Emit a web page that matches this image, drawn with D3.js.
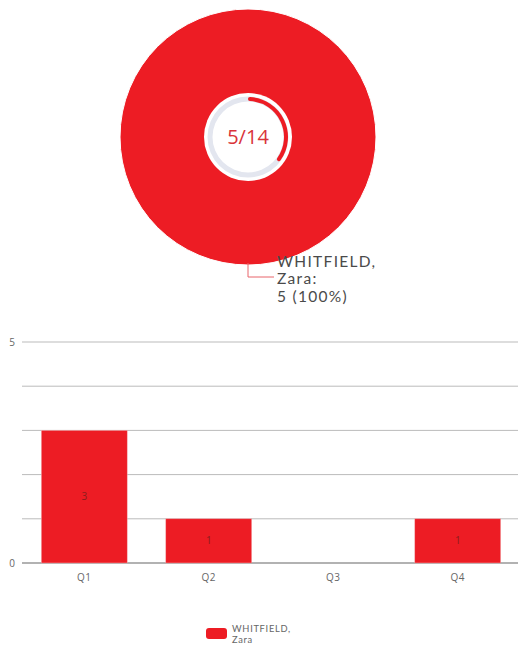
<!DOCTYPE html>
<html><head><meta charset="utf-8">
<script src="https://cdn.jsdelivr.net/npm/d3@7"></script>
<style>body{margin:0;background:#fff;font-family:"Open Sans",Lato,sans-serif;}</style>
</head><body><svg id="c" width="518" height="646"></svg>
<script>
const names = ["WHITFIELD, Zara"];
const pieValues = [5];
const totalTarget = 14;
const quarters = ["Q1","Q2","Q3","Q4"];
const quarterValues = [3,1,0,1];
const yTicks = [0,5];
const red = "#ED1C24";

const svg = d3.select("#c");
const font = "'Open Sans',Lato,sans-serif";
const lfont = "Lato,'Open Sans',sans-serif";

// Pie
const cx = 248, cy = 137, R = 128;
const pie = d3.pie().sort(null)(pieValues);
const g = svg.append("g").attr("transform",`translate(${cx},${cy})`);
g.selectAll("path.s").data(pie).enter().append("path")
  .attr("d", d3.arc().innerRadius(0).outerRadius(R))
  .attr("fill", red).attr("stroke","#fff").attr("stroke-width",1);
g.append("circle").attr("r",44).attr("fill","#fff");
const prog = pieValues[0]/totalTarget;
g.append("path").attr("d", d3.arc().innerRadius(35.5).outerRadius(40.5).startAngle(0).endAngle(2*Math.PI)()).attr("fill","#e3e6ef");
g.append("path").attr("d", d3.arc().innerRadius(36).outerRadius(40).startAngle(0).endAngle(prog*2*Math.PI).cornerRadius(2)()).attr("fill",red);
g.append("text").attr("text-anchor","middle").attr("dy","0.35em").attr("font-family",font)
  .attr("font-size",20).attr("fill","#d9343a").text(pieValues[0]+"/"+totalTarget);

// label
svg.append("path").attr("d",`M${cx},${cy+R-2}V${cy+140}H${cx+26}`).attr("fill","none").attr("stroke","#e8656a").attr("stroke-width",1);
const parts = names[0].split(" ");
[parts[0], parts[1]+":", pieValues[0]+" (100%)"].forEach((t,i)=>{
  svg.append("text").attr("font-family",lfont).attr("font-size",15.5).attr("letter-spacing",1.3)
    .attr("fill","#4a4a4a").attr("x",cx+29).attr("y",267+i*17.3).text(t);
});

// Bars
const x = d3.scaleBand().domain(quarters).range([22,520]).paddingInner(0.31).paddingOuter(0.155);
const y = d3.scaleLinear().domain([0,5]).range([563,342]);
const grid = [0,1,2,3,4,5];
svg.append("g").selectAll("line").data(grid).enter().append("line")
  .attr("x1",22).attr("x2",518).attr("y1",d=>y(d)).attr("y2",d=>y(d))
  .attr("stroke",d=>d===0?"#999":"#bbb").attr("stroke-width",d=>d===0?1.5:1);
svg.append("g").selectAll("text").data(yTicks).enter().append("text")
  .attr("x",12).attr("y",d=>y(d)).attr("dy","0.35em").attr("text-anchor","middle")
  .attr("font-family",font).attr("font-size",10).attr("fill","#666").text(d=>d);
const barData = quarters.map((q,i)=>({q,v:quarterValues[i]})).filter(d=>d.v>0);
svg.append("g").selectAll("rect").data(barData).enter().append("rect")
  .attr("x",d=>x(d.q)).attr("width",x.bandwidth()).attr("y",d=>y(d.v)).attr("height",d=>y(0)-y(d.v))
  .attr("fill",red).attr("stroke","#f3b0b2").attr("stroke-width",0.5);
svg.append("g").selectAll("text").data(barData).enter().append("text")
  .attr("x",d=>x(d.q)+x.bandwidth()/2).attr("y",d=>(y(d.v)+y(0))/2).attr("dy","0.35em").attr("text-anchor","middle")
  .attr("font-family",font).attr("font-size",10).attr("fill","#8a1c1c").text(d=>d.v);
svg.append("g").selectAll("text").data(quarters).enter().append("text")
  .attr("x",d=>x(d)+x.bandwidth()/2).attr("y",577).attr("dy","0.35em").attr("text-anchor","middle")
  .attr("font-family",font).attr("font-size",10).attr("letter-spacing",0.4).attr("fill","#666").text(d=>d);

// Legend
svg.append("rect").attr("x",206).attr("y",628).attr("width",21).attr("height",11).attr("rx",3).attr("fill",red);
[parts[0], parts[1]].forEach((t,i)=>{
  svg.append("text").attr("font-family",lfont).attr("font-size",9.3).attr("letter-spacing",0.7)
    .attr("fill","#666").attr("x",232).attr("y",632+i*11.2).text(t);
});
</script></body></html>
